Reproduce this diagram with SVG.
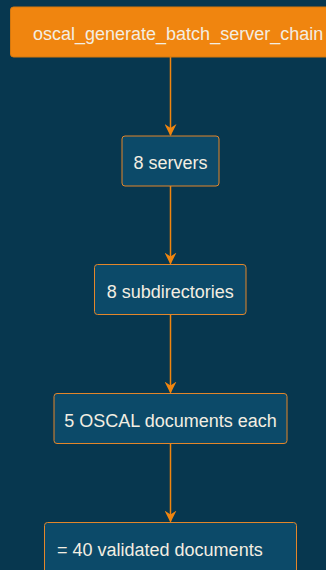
<svg xmlns="http://www.w3.org/2000/svg" width="326" height="570" viewBox="0 0 326 570">
  <defs>
    <style>
      .node rect { fill: #0c4a69; stroke: #e3862a; stroke-width: 1; }
      .start rect { fill: #f0850f; stroke: #d5780f; stroke-width: 1; }
      text { font-family: "Liberation Sans", Arial, sans-serif; font-size: 18px; fill: #f3eee2; }
      .edge { stroke: #f0850f; stroke-width: 1.5; fill: none; }
    </style>
    <marker id="arrow" viewBox="0 0 12 12" refX="11" refY="6" markerWidth="12" markerHeight="12" markerUnits="userSpaceOnUse" orient="auto">
      <path d="M0,0 L12,6 L0,12 L4,6 Z" fill="#f0850f"/>
    </marker>
  </defs>
  <rect x="0" y="0" width="326" height="570" fill="#07374f"/>
  <g id="connectors">
    <line class="edge" x1="170.5" y1="57" x2="170.5" y2="135" marker-end="url(#arrow)"/>
    <line class="edge" x1="170.5" y1="186" x2="170.5" y2="263.5" marker-end="url(#arrow)"/>
    <line class="edge" x1="170.5" y1="314.5" x2="170.5" y2="392.5" marker-end="url(#arrow)"/>
    <line class="edge" x1="170.5" y1="443.5" x2="170.5" y2="521.5" marker-end="url(#arrow)"/>
  </g>
  <g id="n0" class="start">
    <rect x="10.5" y="7" width="330" height="50" rx="3"/>
    <text x="33" y="40">oscal_generate_batch_server_chain</text>
  </g>
  <g id="n1" class="node">
    <rect x="122" y="136" width="97" height="50" rx="3"/>
    <text x="170.5" y="169.3" text-anchor="middle">8 servers</text>
  </g>
  <g id="n2" class="node">
    <rect x="94.5" y="264.5" width="151.5" height="50" rx="3"/>
    <text x="170.25" y="297.6" text-anchor="middle">8 subdirectories</text>
  </g>
  <g id="n3" class="node">
    <rect x="54" y="393.5" width="233" height="50" rx="3"/>
    <text x="170.5" y="426.8" text-anchor="middle">5 OSCAL documents each</text>
  </g>
  <g id="n4" class="node">
    <rect x="44.5" y="522.5" width="252" height="60" rx="3"/>
    <text x="57" y="555.5">= 40 validated documents</text>
  </g>
</svg>
